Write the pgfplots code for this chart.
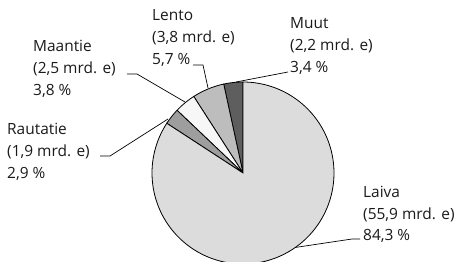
\documentclass[border=0pt]{standalone}
\usepackage{fontspec}
\setmainfont{Open Sans}
\usepackage{pgfplots}
\pgfplotsset{compat=1.18}
\usepackage{pgfplotstable}
\definecolor{cLaiva}{HTML}{DCDCDC}
\definecolor{cRautatie}{HTML}{9E9E9E}
\definecolor{cMaantie}{HTML}{F7F7F7}
\definecolor{cLento}{HTML}{BDBDBD}
\definecolor{cMuut}{HTML}{5E5E5E}
\definecolor{txt}{HTML}{1A1A1A}
% shares (%) and values (mrd. e)
\def\sMuut{3.4}\def\sLento{5.7}\def\sMaantie{3.8}\def\sRautatie{2.9}\def\sLaiva{84.3}
\begin{document}
\begin{tikzpicture}
\useasboundingbox (0,0) rectangle (466bp,262bp);
\pgfmathsetmacro{\aA}{90}
\pgfmathsetmacro{\aB}{\aA+3.6*\sMuut}
\pgfmathsetmacro{\aC}{\aB+3.6*\sLento}
\pgfmathsetmacro{\aD}{\aC+3.6*\sMaantie}
\pgfmathsetmacro{\aE}{\aD+3.6*\sRautatie}
\pgfmathsetmacro{\aF}{450}
\begin{axis}[at={(0,0)}, anchor=south west, scale only axis,
  width=466bp, height=262bp, xmin=0, xmax=466, ymin=0, ymax=262,
  hide axis, clip=false]
\addplot[fill=cMuut, draw=black, line width=0.8pt, domain=\aA:\aB, samples=10, variable=\t]
  ({243+91*cos(\t)},{89+91*sin(\t)}) -- (axis cs:243,89) -- cycle;
\addplot[fill=cLento, draw=black, line width=0.8pt, domain=\aB:\aC, samples=15, variable=\t]
  ({243+91*cos(\t)},{89+91*sin(\t)}) -- (axis cs:243,89) -- cycle;
\addplot[fill=cMaantie, draw=black, line width=0.8pt, domain=\aC:\aD, samples=10, variable=\t]
  ({243+91*cos(\t)},{89+91*sin(\t)}) -- (axis cs:243,89) -- cycle;
\addplot[fill=cRautatie, draw=black, line width=0.8pt, domain=\aD:\aE, samples=10, variable=\t]
  ({243+91*cos(\t)},{89+91*sin(\t)}) -- (axis cs:243,89) -- cycle;
\addplot[fill=cLaiva, draw=black, line width=0.8pt, domain=\aE:\aF, samples=150, variable=\t]
  ({243+91*cos(\t)},{89+91*sin(\t)}) -- (axis cs:243,89) -- cycle;
% leaders
\draw[black, line width=0.7pt] (axis cs:127,188) -- (axis cs:137,188) -- (axis cs:185,160);
\draw[black, line width=0.7pt] (axis cs:100,106) -- (axis cs:110,106) -- (axis cs:168,143);
\draw[black, line width=0.7pt] (axis cs:193,197) -- (axis cs:203,197) -- (axis cs:208,174);
\draw[black, line width=0.7pt] (axis cs:288,190) -- (axis cs:236,180);
\draw[black, line width=0.7pt] (axis cs:295,14.5) -- (axis cs:352,23) -- (axis cs:360,23);
% labels
\tikzset{lab/.style={anchor=base west, inner sep=0pt, text=txt, font=\fontsize{15.5}{18}\selectfont}}
\node[lab] at (axis cs:363,64) {Laiva};
\node[lab] at (axis cs:363,42) {(55,9 mrd. e)};
\node[lab] at (axis cs:363,21) {84,3 \%};
\node[lab] at (axis cs:152,241) {Lento};
\node[lab] at (axis cs:152,219) {(3,8 mrd. e)};
\node[lab] at (axis cs:152,197) {5,7 \%};
\node[lab] at (axis cs:290,233) {Muut};
\node[lab] at (axis cs:290,211) {(2,2 mrd. e)};
\node[lab] at (axis cs:290,189) {3,4 \%};
\node[lab] at (axis cs:33,210) {Maantie};
\node[lab] at (axis cs:33,188) {(2,5 mrd. e)};
\node[lab] at (axis cs:33,166) {3,8 \%};
\node[lab] at (axis cs:7,127) {Rautatie};
\node[lab] at (axis cs:7,105) {(1,9 mrd. e)};
\node[lab] at (axis cs:7,83) {2,9 \%};
\end{axis}
\end{tikzpicture}
\end{document}
